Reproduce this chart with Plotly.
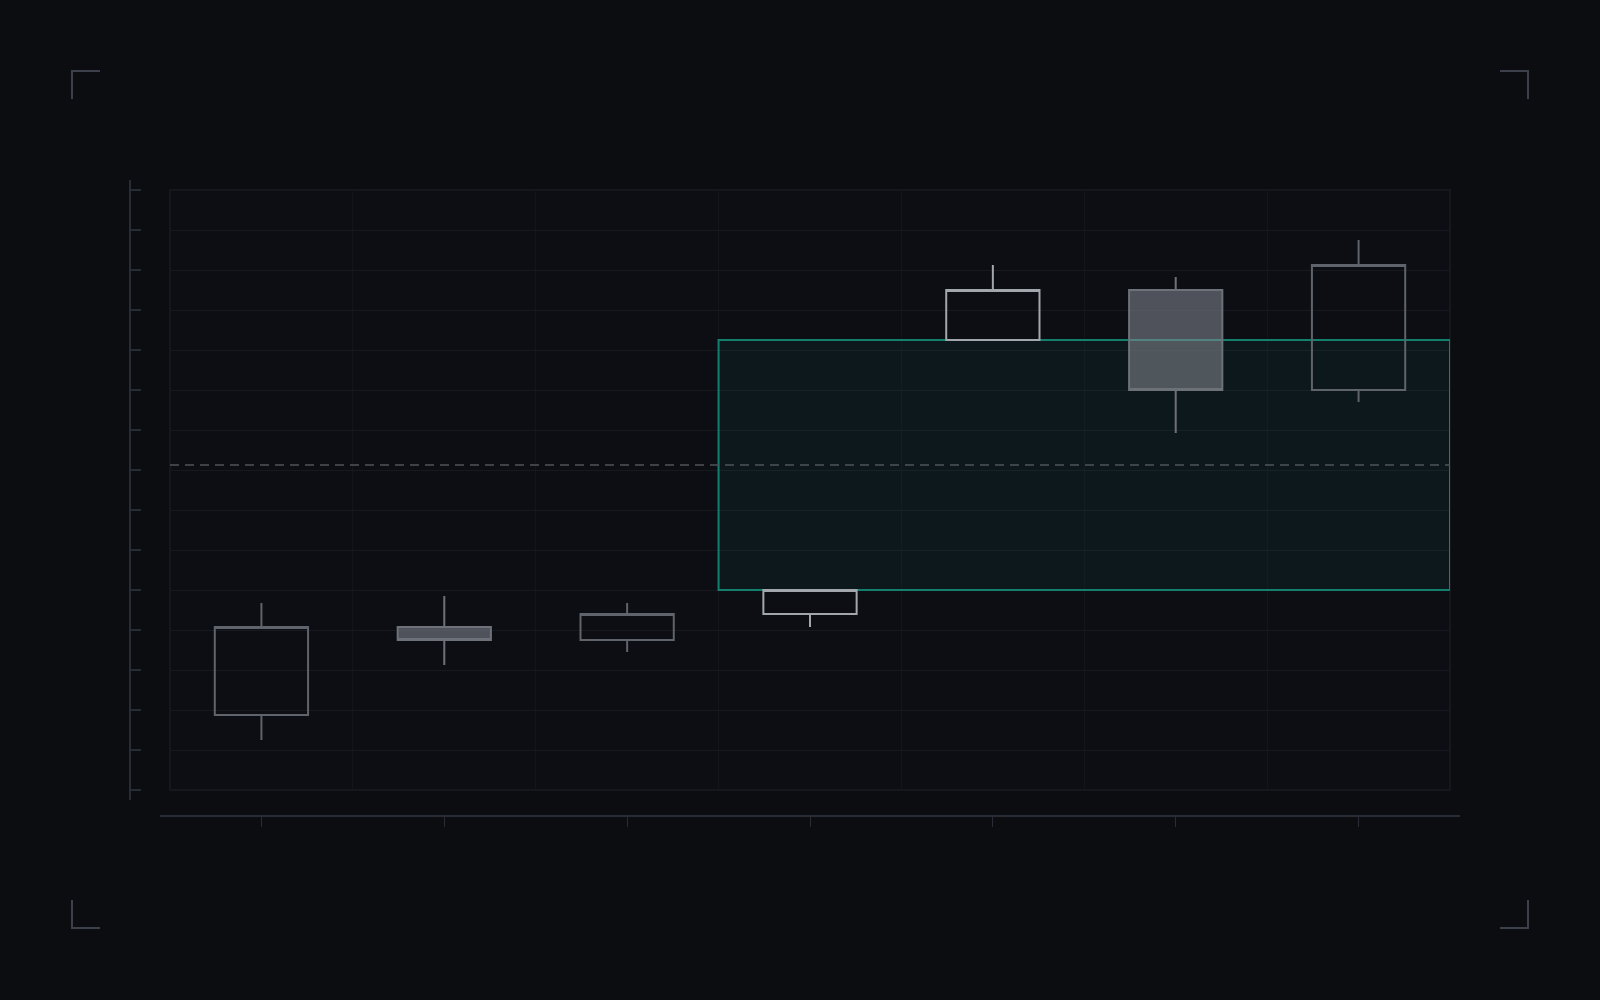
import plotly.graph_objects as go

# ---- data ----
days = ["Mon", "Tue", "Wed", "Thu", "Fri", "Sat", "Sun"]
open_ = [7.5, 16.3, 15.0, 17.6, 45.0, 50.0, 40.0]
high = [18.7, 19.4, 18.7, 20.0, 52.5, 51.3, 55.0]
low = [5.0, 12.5, 13.8, 16.3, 45.0, 35.7, 38.8]
close = [16.3, 15.0, 17.6, 20.0, 50.0, 40.0, 52.5]
highlighted = ["Thu", "Fri"]
zone_low, zone_high = 20.0, 45.0
zone_from, zone_to = 2.5, 6.5  # category-index edges
y_min, y_max, y_step = 0, 60, 4

W, H = 1600, 1000
BG = "#0b0d11"
PLOT_BG = "#0c0e13"
AXIS = "#282c34"
CORNER = "#3b404a"
GRID = "#16191f"


def pick(arr, keep):
    return [v for d, v in zip(days, arr) if keep(d)]


fig = go.Figure()
for keep, inc_line, dec_line in [
    (lambda d: d not in highlighted, "#5f636b", "#6d7179"),
    (lambda d: d in highlighted, "#a2a6ad", "#a2a6ad"),
]:
    fig.add_trace(go.Candlestick(
        x=pick(days, keep), open=pick(open_, keep), high=pick(high, keep),
        low=pick(low, keep), close=pick(close, keep),
        increasing=dict(line=dict(color=inc_line, width=2), fillcolor="rgba(0,0,0,0)"),
        decreasing=dict(line=dict(color=dec_line, width=2), fillcolor="rgba(128,132,142,0.58)"),
        whiskerwidth=0, showlegend=False, hoverinfo="skip",
    ))

# invisible trace to keep the offset axes alive
fig.add_trace(go.Scatter(x=[None], y=[None], xaxis="x2", yaxis="y2", showlegend=False, hoverinfo="skip"))

px_l, px_r, px_t, px_b = 170, 1450, 190, 790
off = 10
unit_x = (px_r - px_l) / len(days)
unit_y = (px_b - px_t) / (y_max - y_min)

fig.update_layout(
    width=W, height=H, margin=dict(l=0, r=0, t=0, b=0),
    paper_bgcolor=BG, plot_bgcolor="rgba(0,0,0,0)", boxgap=0.49, boxgroupgap=0,
    xaxis=dict(
        domain=[px_l / W, px_r / W], type="category", categoryorder="array",
        categoryarray=days, range=[-0.5, len(days) - 0.5], tickson="boundaries",
        showgrid=True, gridcolor="#13151b", gridwidth=1, ticks="", showticklabels=False,
        showline=False, zeroline=False, rangeslider=dict(visible=False), fixedrange=True,
    ),
    yaxis=dict(
        domain=[1 - px_b / H, 1 - px_t / H], range=[y_min, y_max], tick0=y_min, dtick=y_step,
        showgrid=True, gridcolor=GRID, gridwidth=1, showticklabels=False, ticks="",
        zeroline=False, showline=False, fixedrange=True,
    ),
    xaxis2=dict(
        domain=[(px_l - off) / W, (px_r + off) / W], anchor="free", position=1 - 816 / H,
        range=[-0.5 - off / unit_x, len(days) - 0.5 + off / unit_x],
        tickvals=list(range(len(days))), ticks="outside", ticklen=10, tickwidth=1,
        tickcolor=AXIS, showline=True, linecolor=AXIS, linewidth=1.5,
        showticklabels=False, showgrid=False, zeroline=False, fixedrange=True,
    ),
    yaxis2=dict(
        domain=[1 - (px_b + off) / H, 1 - (px_t - off) / H], anchor="free", position=130 / W,
        range=[y_min - off / unit_y, y_max + off / unit_y], tick0=y_min, dtick=y_step,
        ticks="inside", ticklen=10, tickwidth=1.5, tickcolor=AXIS, showline=True,
        linecolor=AXIS, linewidth=1.5, showticklabels=False, showgrid=False,
        zeroline=False, fixedrange=True,
    ),
)

# plot-area background with a faint frame
fig.add_shape(type="rect", xref="paper", yref="paper", x0=px_l / W, x1=px_r / W,
              y0=1 - px_b / H, y1=1 - px_t / H, fillcolor=PLOT_BG,
              line=dict(color="#181b21", width=1.5), layer="below")
# highlighted zone
fig.add_shape(type="rect", xref="x", yref="y", x0=zone_from, x1=zone_to, y0=zone_low, y1=zone_high,
              fillcolor="rgba(20,160,140,0.07)", line=dict(color="#13806e", width=2), layer="between")
# midline
mid = (zone_low + zone_high) / 2
fig.add_shape(type="line", xref="x", yref="y", x0=-0.5, x1=len(days) - 0.5, y0=mid, y1=mid,
              line=dict(color="#4e545c", width=1.5, dash="9px,6px"), layer="between")

# corner brackets
arm = 28
for cx, cy, dx, dy in [(72, 71, 1, 1), (1528, 71, -1, 1), (72, 928, 1, -1), (1528, 928, -1, -1)]:
    path = f"M {(cx + dx * arm) / W} {1 - cy / H} L {cx / W} {1 - cy / H} L {cx / W} {1 - (cy + dy * arm) / H}"
    fig.add_shape(type="path", xref="paper", yref="paper", path=path,
                  line=dict(color=CORNER, width=2))

fig.write_html("out.html", config={"displayModeBar": False},
               post_script="document.body.style.margin='0';document.body.style.background='" + BG + "';")
